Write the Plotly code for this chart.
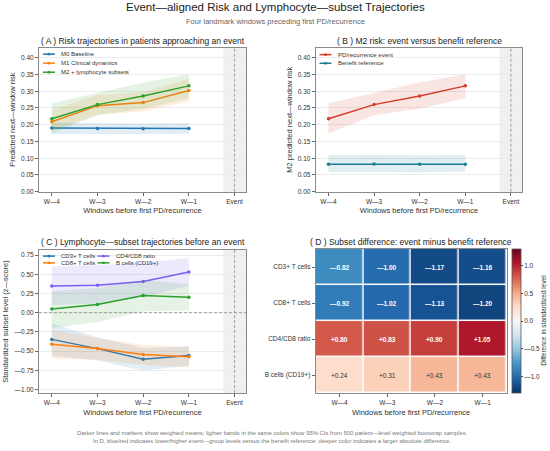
import plotly.graph_objects as go

W = 550
H = 451
FONT = "Liberation Sans, Arial, sans-serif"

windows = ["W—4", "W—3", "W—2", "W—1"]
x_ticks = windows + ["Event"]
xpos = [0, 1, 2, 3]

# panel A: risk by model
m0_mean = [0.190, 0.189, 0.188, 0.189]
m0_lo = [0.172, 0.172, 0.172, 0.173]
m0_hi = [0.206, 0.204, 0.204, 0.205]
m1_mean = [0.209, 0.257, 0.266, 0.302]
m1_lo = [0.182, 0.230, 0.240, 0.270]
m1_hi = [0.245, 0.288, 0.298, 0.337]
m2_mean = [0.218, 0.260, 0.286, 0.316]
m2_lo = [0.174, 0.228, 0.248, 0.279]
m2_hi = [0.264, 0.294, 0.326, 0.351]

# panel B: M2 risk, event vs benefit reference
ev_mean = [0.218, 0.260, 0.286, 0.316]
ev_lo = [0.174, 0.228, 0.248, 0.279]
ev_hi = [0.264, 0.294, 0.326, 0.351]
ref_mean = [0.082, 0.083, 0.082, 0.082]
ref_lo = [0.059, 0.059, 0.058, 0.060]
ref_hi = [0.109, 0.110, 0.108, 0.109]

# panel C: subset z-scores
cd3_mean = [-0.347, -0.467, -0.604, -0.557]
cd3_lo = [-0.56, -0.62, -0.75, -0.69]
cd3_hi = [-0.14, -0.32, -0.46, -0.44]
cd8_mean = [-0.411, -0.467, -0.544, -0.574]
cd8_lo = [-0.60, -0.61, -0.68, -0.71]
cd8_hi = [-0.22, -0.33, -0.42, -0.44]
ratio_mean = [0.346, 0.358, 0.406, 0.530]
ratio_lo = [0.10, 0.12, 0.20, 0.35]
ratio_hi = [0.60, 0.62, 0.65, 0.71]
bcell_mean = [0.049, 0.108, 0.225, 0.200]
bcell_lo = [-0.20, -0.12, 0.02, 0.03]
bcell_hi = [0.28, 0.32, 0.43, 0.37]

# panel D: event minus reference
subsets = ["CD3+ T cells", "CD8+ T cells", "CD4/CD8 ratio", "B cells (CD19+)"]
diff = [
    [-0.82, -1.00, -1.17, -1.16],
    [-0.92, -1.02, -1.13, -1.20],
    [0.80, 0.83, 0.90, 1.05],
    [0.24, 0.31, 0.43, 0.43],
]
cbar_ticks = [-1.0, -0.5, 0.0, 0.5, 1.0]

risk_ticks = [0.0, 0.05, 0.10, 0.15, 0.20, 0.25, 0.30, 0.35, 0.40]
z_ticks = [-1.0, -0.75, -0.5, -0.25, 0.0, 0.25, 0.5, 0.75]

RDBU = [
    [0.0, "#053061"], [0.1, "#2166ac"], [0.2, "#4393c3"], [0.3, "#92c5de"],
    [0.4, "#d1e5f0"], [0.5, "#f7f7f7"], [0.6, "#fddbc7"], [0.7, "#f4a582"],
    [0.8, "#d6604d"], [0.9, "#b2182b"], [1.0, "#67001f"],
]

C_BLUE = "#1f77b4"
C_ORANGE = "#ff7f0e"
C_GREEN = "#2ca02c"
C_RED = "#d43d2a"
C_TEAL = "#1a7f91"
C_PURPLE = "#7b5cf5"


def dash_num(v, fmt):
    return fmt.format(v).replace("-", "—")


def px_x(p):
    return p / W


def px_y(p):
    return 1 - p / H


def rgba(hexc, a):
    h = hexc.lstrip("#")
    r, g, b = (int(h[i:i + 2], 16) for i in (0, 2, 4))
    return f"rgba({r},{g},{b},{a})"


fig = go.Figure()


def add_series(mean, lo, hi, color, name, xa, ya):
    fig.add_trace(go.Scatter(
        x=xpos + xpos[::-1], y=hi + lo[::-1], fill="toself", mode="lines",
        fillcolor=rgba(color, 0.13), line=dict(width=0),
        hoverinfo="skip", showlegend=False, xaxis=xa, yaxis=ya,
    ))
    fig.add_trace(go.Scatter(
        x=xpos, y=mean, mode="lines+markers", name=name, showlegend=False,
        line=dict(color=color, width=1.5), marker=dict(size=3.5, color=color),
        xaxis=xa, yaxis=ya,
    ))


add_series(m0_mean, m0_lo, m0_hi, C_BLUE, "M0 Baseline", "x", "y")
add_series(m1_mean, m1_lo, m1_hi, C_ORANGE, "M1 Clinical dynamics", "x", "y")
add_series(m2_mean, m2_lo, m2_hi, C_GREEN, "M2 + lymphocyte subsets", "x", "y")

add_series(ev_mean, ev_lo, ev_hi, C_RED, "PD/recurrence event", "x2", "y2")
add_series(ref_mean, ref_lo, ref_hi, C_TEAL, "Benefit reference", "x2", "y2")

add_series(cd3_mean, cd3_lo, cd3_hi, C_BLUE, "CD3+ T cells", "x3", "y3")
add_series(cd8_mean, cd8_lo, cd8_hi, C_ORANGE, "CD8+ T cells", "x3", "y3")
add_series(ratio_mean, ratio_lo, ratio_hi, C_PURPLE, "CD4/CD8 ratio", "x3", "y3")
add_series(bcell_mean, bcell_lo, bcell_hi, C_GREEN, "B cells (CD19+)", "x3", "y3")

fig.add_trace(go.Heatmap(
    z=diff, x=windows, y=subsets, colorscale=RDBU, zmin=-1.3, zmax=1.3,
    xgap=1.5, ygap=1.5, xaxis="x4", yaxis="y4", hoverinfo="skip",
    colorbar=dict(
        x=px_x(512), xanchor="left", xpad=0, y=px_y(395.7), yanchor="bottom", ypad=0,
        len=(395.7 - 250.7) / H, lenmode="fraction", thickness=8.5,
        outlinewidth=0.8, outlinecolor="#555",
        tickvals=cbar_ticks, ticktext=[dash_num(v, "{:.1f}") for v in cbar_ticks],
        tickfont=dict(size=6.5, color="#333"), ticks="outside", ticklen=2,
    ),
))

for i, row in enumerate(diff):
    for j, v in enumerate(row):
        strong = abs(v) > 0.6
        fig.add_annotation(
            x=windows[j], y=subsets[i], xref="x4", yref="y4", showarrow=False,
            text=("<b>%s</b>" if strong else "%s") % dash_num(v, "{:+.2f}"),
            font=dict(size=6.5, color="white" if strong else "#333"),
        )

# colorbar label
fig.add_annotation(x=px_x(544), y=px_y(323), xref="paper", yref="paper", showarrow=False,
                   text="Difference in standardized level", textangle=-90,
                   xanchor="center", yanchor="middle", font=dict(size=6.5, color="#333"))


# compact legends (plotly's own legend rows are too tall at this size)
def legend_entry(x, y, name, color):
    fig.add_shape(type="line", xref="paper", yref="paper",
                  x0=px_x(x), x1=px_x(x + 12), y0=px_y(y), y1=px_y(y),
                  line=dict(color=color, width=1.5))
    fig.add_shape(type="rect", xref="paper", yref="paper",
                  x0=px_x(x + 4.8), x1=px_x(x + 7.2), y0=px_y(y + 1.2), y1=px_y(y - 1.2),
                  fillcolor=color, line=dict(width=0))
    fig.add_annotation(x=px_x(x + 16), y=px_y(y), xref="paper", yref="paper",
                       xanchor="left", yanchor="middle", showarrow=False, text=name,
                       font=dict(size=6, color="#333"))


for k, (name, color) in enumerate([("M0 Baseline", C_BLUE), ("M1 Clinical dynamics", C_ORANGE),
                                    ("M2 + lymphocyte subsets", C_GREEN)]):
    legend_entry(43, 54.5 + 9.1 * k, name, color)
for k, (name, color) in enumerate([("PD/recurrence event", C_RED), ("Benefit reference", C_TEAL)]):
    legend_entry(319.5, 55 + 8.7 * k, name, color)
for k, (name, color) in enumerate([("CD3+ T cells", C_BLUE), ("CD8+ T cells", C_ORANGE),
                                    ("CD4/CD8 ratio", C_PURPLE), ("B cells (CD19+)", C_GREEN)]):
    legend_entry(43 + 54.5 * (k // 2), 257.8 + 6.8 * (k % 2), name, color)

line_axis = dict(
    showline=True, mirror=True, linecolor="#8a8a8a", linewidth=1,
    ticks="outside", ticklen=3, tickcolor="#666", tickfont=dict(size=6.5, color="#333"),
    zeroline=False,
)
risk_text = ["%.2f" % v for v in risk_ticks]
z_text = [dash_num(v, "{:.2f}") for v in z_ticks]
title_font = dict(size=7.5, color="#333")

xdomA = [px_x(39), px_x(246)]
xdomB = [px_x(315.7), px_x(522.3)]
ydomTop = [px_y(193), px_y(48)]
ydomBot = [px_y(395.7), px_y(251.7)]
xdomD = [px_x(315.7), px_x(506.5)]
ydomD = [px_y(395.7), px_y(250.7)]

xline = dict(line_axis, tickvals=[0, 1, 2, 3, 4], ticktext=x_ticks, range=[-0.28, 4.25],
             showgrid=False,
             title=dict(text="Windows before first PD/recurrence", font=title_font, standoff=4))
ygrid = dict(showgrid=True, gridcolor="#ececec", gridwidth=0.8)

fig.update_layout(
    width=W, height=H, margin=dict(l=0, r=0, t=0, b=0),
    paper_bgcolor="white", plot_bgcolor="white",
    font=dict(family=FONT, color="#333"),
    showlegend=False,
    xaxis=dict(xline, domain=xdomA, anchor="y"),
    yaxis=dict(line_axis, **ygrid, domain=ydomTop, anchor="x", range=[0, 0.43],
               tickvals=risk_ticks, ticktext=risk_text,
               title=dict(text="Predicted next—window risk", font=title_font, standoff=4)),
    xaxis2=dict(xline, domain=xdomB, anchor="y2"),
    yaxis2=dict(line_axis, **ygrid, domain=ydomTop, anchor="x2", range=[0, 0.43],
                tickvals=risk_ticks, ticktext=risk_text,
                title=dict(text="M2 predicted next—window risk", font=title_font, standoff=4)),
    xaxis3=dict(xline, domain=xdomA, anchor="y3"),
    yaxis3=dict(line_axis, **ygrid, domain=ydomBot, anchor="x3", range=[-1.045, 0.815],
                tickvals=z_ticks, ticktext=z_text,
                title=dict(text="Standardized subset level (z—score)", font=title_font, standoff=4)),
    xaxis4=dict(line_axis, domain=xdomD, anchor="y4", showgrid=False,
                title=dict(text="Windows before first PD/recurrence", font=title_font, standoff=4)),
    yaxis4=dict(line_axis, domain=ydomD, anchor="x4", showgrid=False, autorange="reversed"),
)

# event column: shaded band and dashed marker
for xa, ya in (("x", "y"), ("x2", "y2"), ("x3", "y3")):
    fig.add_shape(type="rect", xref=xa, yref=f"{ya} domain", x0=3.75, x1=4.25, y0=0, y1=1,
                  fillcolor="rgba(0,0,0,0.06)", line=dict(width=0), layer="below")
    fig.add_shape(type="line", xref=xa, yref=f"{ya} domain", x0=4, x1=4, y0=0, y1=1,
                  line=dict(color="#888", width=0.8, dash="3px,2px"))
fig.add_shape(type="line", xref="x3 domain", yref="y3", x0=0, x1=1, y0=0, y1=0,
              line=dict(color="#888", width=0.8, dash="3px,2px"))


def text_at(x, y, t, size, color):
    fig.add_annotation(x=px_x(x), y=px_y(y), xref="paper", yref="paper", text=t,
                       xanchor="center", yanchor="middle", showarrow=False,
                       font=dict(size=size, color=color))


text_at(142.5, 41, "( A ) Risk trajectories in patients approaching an event", 8.5, "#222")
text_at(419, 41, "( B ) M2 risk: event versus benefit reference", 8.5, "#222")
text_at(142.5, 243.5, "( C ) Lymphocyte—subset trajectories before an event", 8.5, "#222")
text_at(411, 243.5, "( D ) Subset difference: event minus benefit reference", 8.5, "#222")
text_at(275, 7.5, "Event—aligned Risk and Lymphocyte—subset Trajectories", 11.5, "#222")
text_at(275, 22, "Four landmark windows preceding first PD/recurrence", 7.5, "#666")
text_at(272, 436, "Darker lines and markers show weighted means; lighter bands in the same colors "
                  "show 95% CIs from 500 patient—level weighted bootstrap samples.", 5.9, "#777")
text_at(272, 443.5, "In D, blue/red indicates lower/higher event—group levels versus the benefit "
                    "reference; deeper color indicates a larger absolute difference.", 5.9, "#777")

# drop the default page margin so the figure sits at the window's top-left corner
fig.write_html("out.html", config={"displayModeBar": False},
               post_script="document.body.style.margin='0px';")
